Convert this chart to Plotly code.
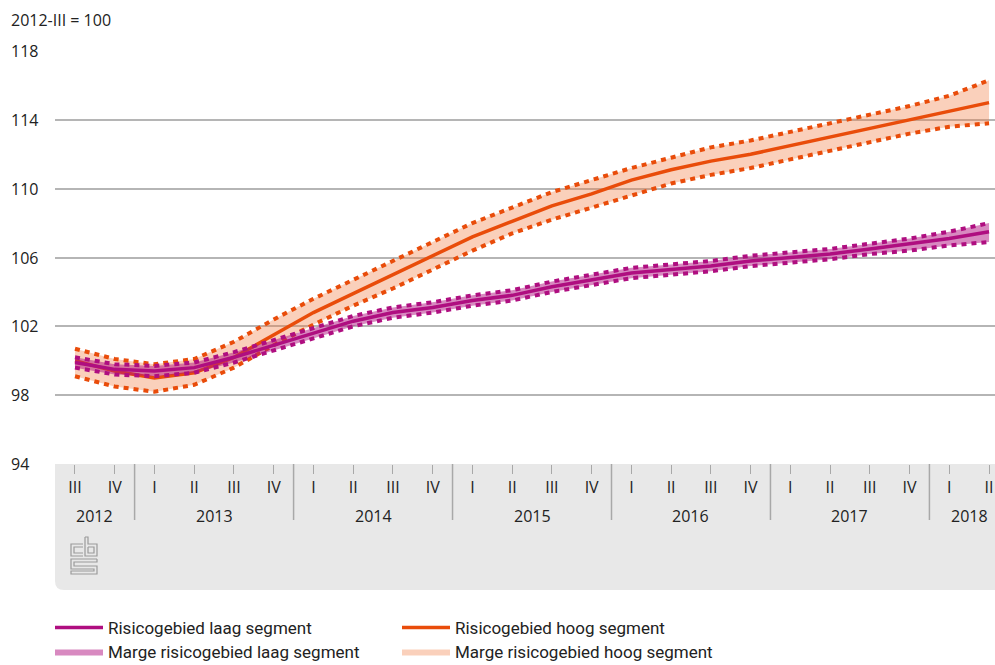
import plotly.graph_objects as go

# Quarterly price index, 2012-III = 100
quarters = ["III", "IV",
            "I", "II", "III", "IV",
            "I", "II", "III", "IV",
            "I", "II", "III", "IV",
            "I", "II", "III", "IV",
            "I", "II", "III", "IV",
            "I", "II"]
years = ["2012", "2013", "2014", "2015", "2016", "2017", "2018"]
quarters_per_year = [2, 4, 4, 4, 4, 4, 2]

laag = [99.9, 99.5, 99.4, 99.6, 100.2, 100.9, 101.6, 102.3, 102.8, 103.1, 103.5, 103.8,
        104.3, 104.7, 105.1, 105.3, 105.5, 105.8, 106.0, 106.2, 106.5, 106.8, 107.1, 107.5]
laag_hi = [100.2, 99.8, 99.7, 99.9, 100.5, 101.2, 101.9, 102.6, 103.1, 103.4, 103.8, 104.1,
           104.6, 105.0, 105.4, 105.6, 105.8, 106.1, 106.3, 106.5, 106.8, 107.1, 107.5, 108.0]
laag_lo = [99.6, 99.2, 99.1, 99.3, 99.9, 100.6, 101.3, 102.0, 102.5, 102.8, 103.2, 103.5,
           104.0, 104.4, 104.8, 105.0, 105.2, 105.5, 105.7, 105.9, 106.2, 106.4, 106.7, 106.9]

hoog = [100.0, 99.4, 99.0, 99.3, 100.2, 101.5, 102.8, 103.9, 105.0, 106.1, 107.2, 108.1,
        109.0, 109.7, 110.5, 111.1, 111.6, 112.0, 112.5, 113.0, 113.5, 114.0, 114.5, 115.0]
hoog_hi = [100.7, 100.1, 99.8, 100.1, 101.1, 102.4, 103.6, 104.7, 105.8, 106.9, 108.0, 108.9,
           109.8, 110.5, 111.2, 111.8, 112.4, 112.8, 113.3, 113.8, 114.3, 114.8, 115.4, 116.3]
hoog_lo = [99.1, 98.5, 98.2, 98.6, 99.6, 100.9, 102.1, 103.2, 104.2, 105.3, 106.4, 107.4,
           108.2, 108.9, 109.6, 110.3, 110.8, 111.2, 111.7, 112.2, 112.7, 113.2, 113.6, 113.8]

y_ticks = [94, 98, 102, 106, 110, 114, 118]

x = list(range(len(quarters)))

PURPLE = "#af0e80"
ORANGE = "#e94c0a"
PURPLE_BAND = "rgba(177,19,129,0.5)"
ORANGE_BAND = "rgba(240,120,60,0.35)"
GRID = "#b5b5b5"
TEXT = "#222222"
AXIS_FONT = "Open Sans, Liberation Sans, sans-serif"
LEGEND_FONT = "Roboto, sans-serif"

W, H = 995, 665
ML, MR, MT, MB = 55, 0, 51, 201
PW, PH = W - ML - MR, H - MT - MB


def px_x(p):
    return (p - ML) / PW


def px_y(p):
    return (H - MB - p) / PH


fig = go.Figure()


def add_series(mid, lo, hi, line_color, band_color, name, band_name):
    fig.add_trace(go.Scatter(x=x, y=hi, mode="lines", line=dict(width=0, color=band_color),
                             showlegend=False, hoverinfo="skip"))
    fig.add_trace(go.Scatter(x=x, y=lo, mode="lines", line=dict(width=0, color=band_color),
                             fill="tonexty", fillcolor=band_color, name=band_name,
                             legend="legend2", hoverinfo="skip"))
    for edge in (hi, lo):
        fig.add_trace(go.Scatter(x=x, y=edge, mode="lines",
                                 line=dict(color=line_color, width=4, dash="5px,5px"),
                                 showlegend=False, hoverinfo="skip"))
    fig.add_trace(go.Scatter(x=x, y=mid, mode="lines", name=name,
                             line=dict(color=line_color, width=3.5), legend="legend"))


add_series(hoog, hoog_lo, hoog_hi, ORANGE, ORANGE_BAND,
           "Risicogebied hoog segment", "Marge risicogebied hoog segment")
add_series(laag, laag_lo, laag_hi, PURPLE, PURPLE_BAND,
           "Risicogebied laag segment", "Marge risicogebied laag segment")

shapes = []
annotations = []

# grey band behind the category axis, rounded lower-left corner
band_bottom = 590
r = 9
shapes.append(dict(
    type="path", xref="paper", yref="paper", layer="below",
    path=(f"M {px_x(ML)},{px_y(464)} L {px_x(W)},{px_y(464)} L {px_x(W)},{px_y(band_bottom)} "
          f"L {px_x(ML + r)},{px_y(band_bottom)} Q {px_x(ML)},{px_y(band_bottom)} {px_x(ML)},{px_y(band_bottom - r)} Z"),
    fillcolor="#e8e8e8", line=dict(width=0)))

# year separators and year labels
start = 0
for yr, n in zip(years, quarters_per_year):
    annotations.append(dict(x=start + (n - 1) / 2, y=px_y(516), xref="x", yref="paper",
                            text=yr, showarrow=False, xanchor="center", yanchor="middle",
                            font=dict(size=16, color=TEXT, family=AXIS_FONT)))
    if start > 0:
        shapes.append(dict(type="line", xref="x", yref="paper", x0=start - 0.5, x1=start - 0.5,
                           y0=px_y(464), y1=px_y(520), line=dict(color="#a8a8a8", width=1.5)))
    start += n

# y tick labels, left aligned
for v in y_ticks:
    annotations.append(dict(x=px_x(9), y=v, xref="paper", yref="y", text=str(v),
                            showarrow=False, xanchor="left", yanchor="middle",
                            font=dict(size=16, color=TEXT, family=AXIS_FONT)))

annotations.append(dict(x=px_x(9), y=px_y(20), xref="paper", yref="paper",
                        text="2012-III = 100", showarrow=False, xanchor="left",
                        yanchor="middle", font=dict(size=16, color=TEXT, family=AXIS_FONT)))

# cbs logo
logo_paths = [
    [(83, 544), (71, 544), (71, 556), (83, 556)],
    [(83, 547), (74, 547), (74, 553), (83, 553)],
    [(85, 537), (88, 537), (88, 544), (97, 544), (97, 556), (85, 556), (85, 537)],
    [(88, 547), (94, 547), (94, 553), (88, 553), (88, 547)],
    [(97, 559), (71, 559), (71, 569), (94, 569), (94, 571), (71, 571), (71, 574),
     (97, 574), (97, 566), (74, 566), (74, 562), (97, 562), (97, 559)],
]
for pts in logo_paths:
    d = "M " + " L ".join(f"{px_x(a)},{px_y(b)}" for a, b in pts)
    shapes.append(dict(type="path", xref="paper", yref="paper", path=d,
                       line=dict(color="#9a9a9a", width=1.2)))

legend_common = dict(orientation="h", x=px_x(50), xanchor="left", yanchor="top",
                     entrywidth=284, entrywidthmode="pixels", itemwidth=48,
                     traceorder="reversed",
                     font=dict(size=17, color=TEXT, family=LEGEND_FONT),
                     bgcolor="rgba(0,0,0,0)")

fig.update_layout(
    width=W, height=H,
    margin=dict(l=ML, r=MR, t=MT, b=MB, pad=0, autoexpand=False),
    paper_bgcolor="white", plot_bgcolor="white",
    xaxis=dict(range=[-0.503, 23.15], tickmode="array", tickvals=x, ticktext=quarters,
               ticks="outside", ticklen=9, tickwidth=1, tickcolor="#a8a8a8",
               showgrid=False, zeroline=False, showline=False,
               tickfont=dict(size=16, color=TEXT, family=AXIS_FONT)),
    yaxis=dict(range=[94, 118], tickmode="array", tickvals=y_ticks, showticklabels=False,
               showgrid=True, gridcolor=GRID, gridwidth=1.5, zeroline=False, showline=False),
    shapes=shapes, annotations=annotations,
    legend=dict(legend_common, y=px_y(610)),
    legend2=dict(legend_common, y=px_y(634)),
    showlegend=True,
)

fig.write_html("out.html")
